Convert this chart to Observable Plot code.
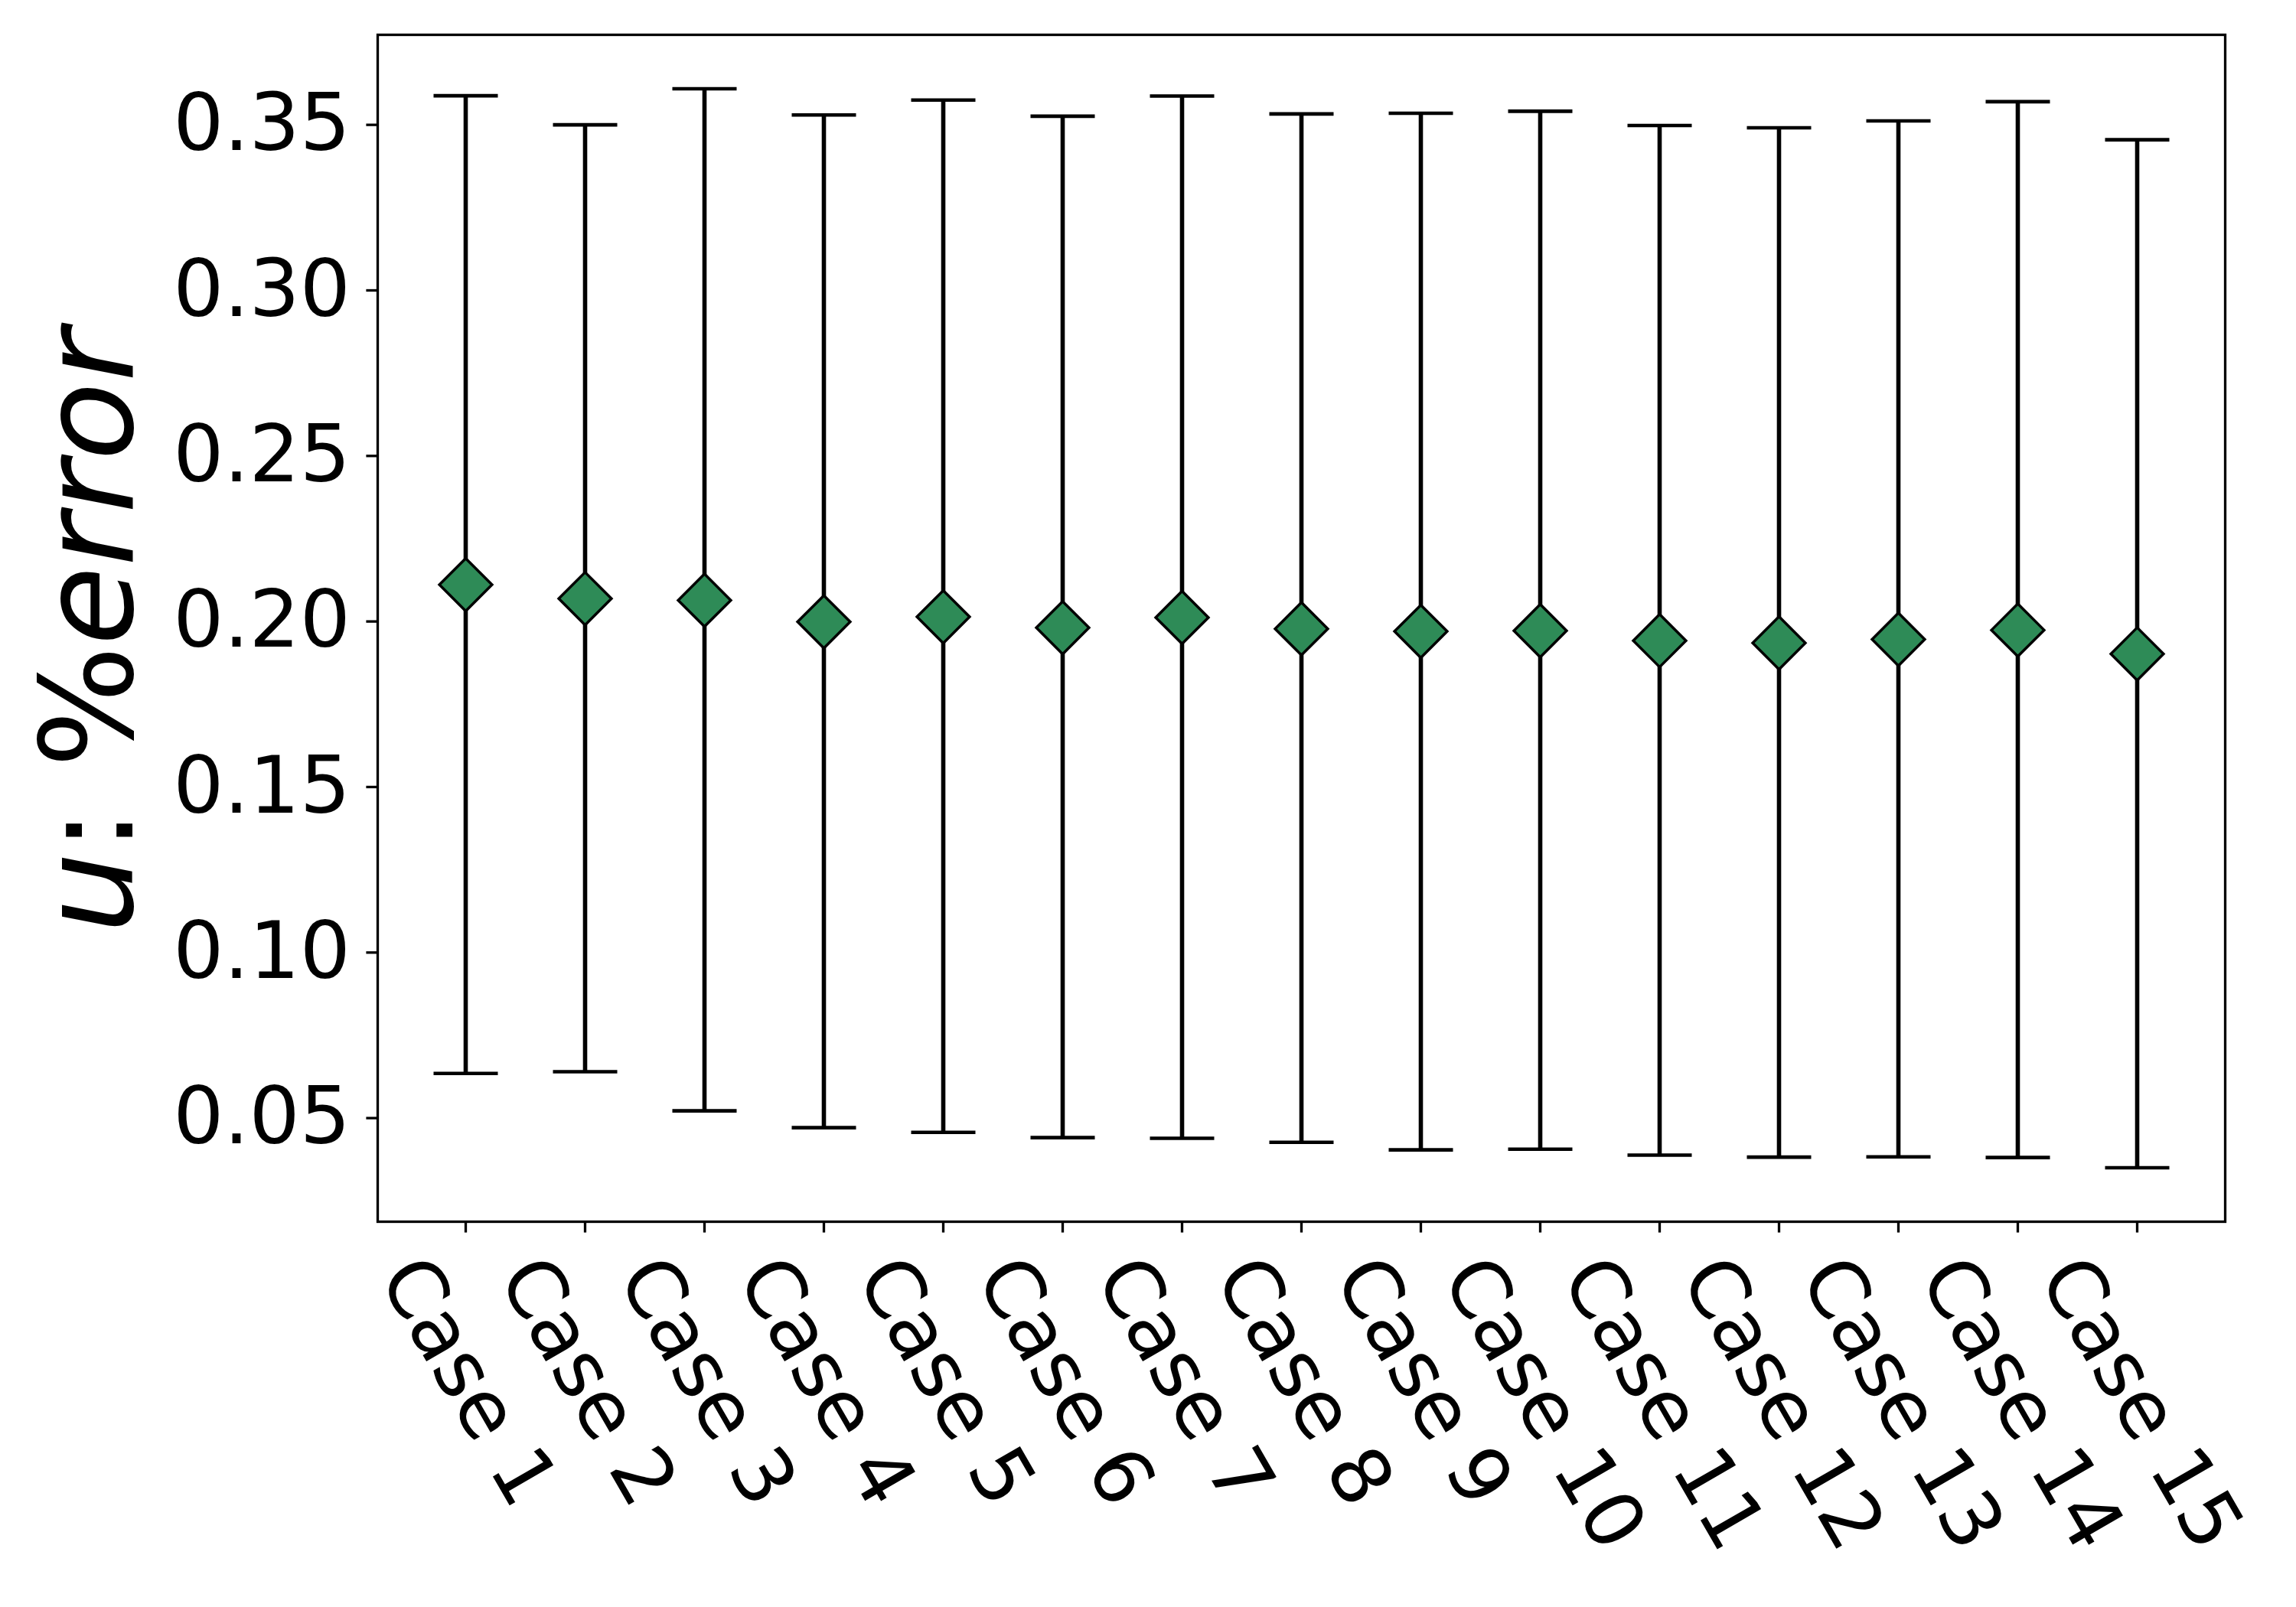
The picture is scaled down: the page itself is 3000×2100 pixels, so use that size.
<!DOCTYPE html>
<html>
<head>
<meta charset="utf-8">
<script src="https://cdn.jsdelivr.net/npm/d3@7"></script>
<script src="https://cdn.jsdelivr.net/npm/@observablehq/plot@0.6"></script>
<style>
  html, body { margin: 0; padding: 0; background: #fff; }
  #chart { width: 3000px; height: 2100px; }
</style>
</head>
<body>
<div id="chart"></div>
<script>
const cases = ["Case 1", "Case 2", "Case 3", "Case 4", "Case 5", "Case 6", "Case 7", "Case 8",
               "Case 9", "Case 10", "Case 11", "Case 12", "Case 13", "Case 14", "Case 15"];
const means = [0.2111, 0.2069, 0.2064, 0.1999, 0.2014, 0.1981, 0.2012, 0.1978,
               0.1970, 0.1972, 0.1942, 0.1935, 0.1946, 0.1974, 0.1902];
const lower = [0.0635, 0.0640, 0.0522, 0.0471, 0.0457, 0.0441, 0.0439, 0.0427,
               0.0404, 0.0406, 0.0388, 0.0382, 0.0383, 0.0381, 0.0350];
const upper = [0.3588, 0.3500, 0.3609, 0.3530, 0.3575, 0.3526, 0.3587, 0.3533,
               0.3535, 0.3541, 0.3498, 0.3491, 0.3512, 0.3570, 0.3455];
const yTicks = [0.05, 0.10, 0.15, 0.20, 0.25, 0.30, 0.35];

const data = cases.map((c, i) => ({case: c, mean: means[i], lo: lower[i], hi: upper[i]}));

// matplotlib-style 5% autoscale margins
const yMin = d3.min(lower), yMax = d3.max(upper);
const pad = (yMax - yMin) * 0.05;

// horizontal cap symbol for error bars
const capSymbol = {draw(ctx) { ctx.moveTo(-42, 0); ctx.lineTo(42, 0); }};

const FONT = "DejaVu Sans";
const svg = Plot.plot({
  width: 3000,
  height: 2100,
  marginLeft: 493,
  marginRight: 93,
  marginTop: 45,
  marginBottom: 504,
  style: {fontFamily: FONT, fontSize: "104px", color: "black", background: "white"},
  x: {type: "point", domain: cases, padding: 0.7, label: null},
  y: {domain: [yMin - pad, yMax + pad], label: null},
  marks: [
    Plot.axisY({ticks: yTicks, tickFormat: d3.format(".2f"), tickSize: 14.6, tickPadding: 21,
                fontSize: 104, fontFamily: FONT, strokeWidth: 3.3, label: null}),
    Plot.axisX({tickSize: 14.6, strokeWidth: 3.3, tickFormat: () => "", label: null}),
    Plot.text(cases, {x: d => d, frameAnchor: "bottom", rotate: 60, textAnchor: "start",
                      lineAnchor: "middle", dx: -86, dy: 56, fontSize: 104, fontFamily: FONT,
                      fill: "black", filter: d => d.length === 6}),
    Plot.text(cases, {x: d => d, frameAnchor: "bottom", rotate: 60, textAnchor: "start",
                      lineAnchor: "middle", dx: -101, dy: 56, fontSize: 104, fontFamily: FONT,
                      fill: "black", filter: d => d.length === 7}),
    Plot.ruleX(data, {x: "case", y1: "lo", y2: "hi", stroke: "black", strokeWidth: 5.6}),
    Plot.dot(data, {x: "case", y: "lo", symbol: capSymbol, fill: "none", stroke: "black", strokeWidth: 4.6}),
    Plot.dot(data, {x: "case", y: "hi", symbol: capSymbol, fill: "none", stroke: "black", strokeWidth: 4.6}),
    Plot.dot(data, {x: "case", y: "mean", symbol: "diamond2", r: 31, fill: "#2e8b57",
                    stroke: "black", strokeWidth: 3.5}),
    Plot.frame({stroke: "black", strokeWidth: 3.3})
  ]
});

// y-axis label with mixed italic/upright text
const lab = d3.select(svg).append("text")
  .attr("transform", "translate(173,825) rotate(-90)")
  .attr("text-anchor", "middle")
  .attr("font-family", FONT)
  .attr("font-size", 168)
  .attr("fill", "black");
lab.append("tspan").attr("font-style", "italic").text("u");
lab.append("tspan").text(": %");
lab.append("tspan").attr("font-style", "italic").text("error");

document.getElementById("chart").appendChild(svg);
</script>
</body>
</html>
